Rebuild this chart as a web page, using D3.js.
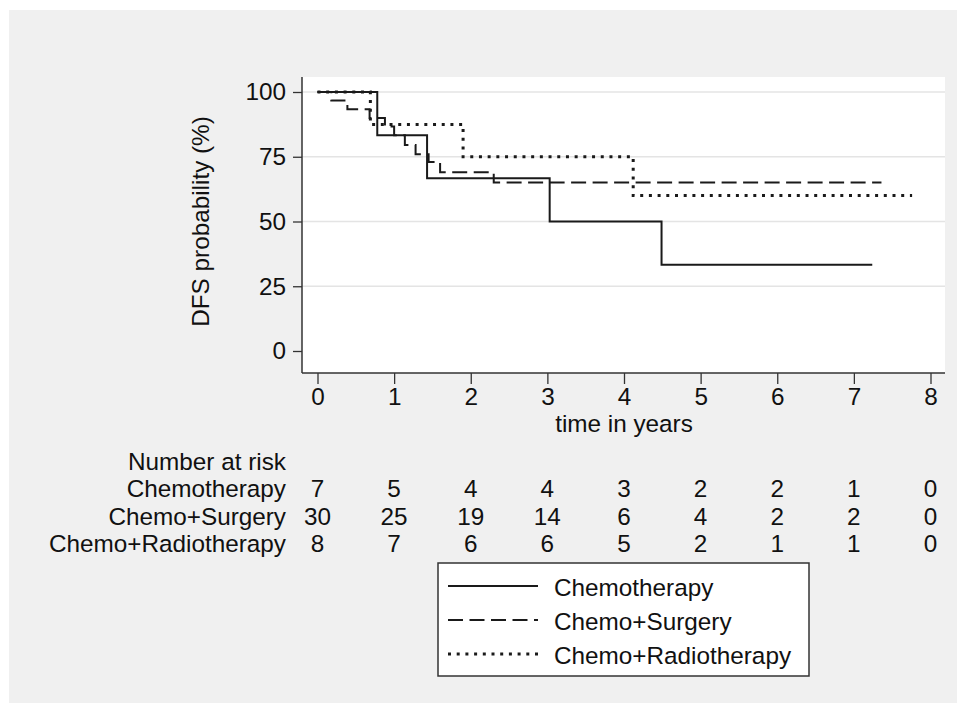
<!DOCTYPE html>
<html>
<head>
<meta charset="utf-8">
<script src="https://cdn.jsdelivr.net/npm/d3@7"></script>
<style>
  html, body { margin: 0; padding: 0; background: #ffffff; }
  svg { display: block; }
  text { font-family: "Liberation Sans", Arial, sans-serif; fill: #111; }
</style>
</head>
<body>
<svg id="chart" width="957" height="703"></svg>
<script>
// ---------- data ----------
const groups = ["Chemotherapy", "Chemo+Surgery", "Chemo+Radiotherapy"];
const xTicks = [0, 1, 2, 3, 4, 5, 6, 7, 8];
const yTicks = [0, 25, 50, 75, 100];

// Kaplan-Meier step points: survival (%) from each time onward
const chemoTimes = [0, 0.78, 1.43, 3.03, 4.49, 7.24];
const chemoSurv  = [100, 83.3, 66.7, 50, 33.3, 33.3];

const surgeryTimes = [0, 0.18, 0.39, 0.68, 0.88, 1.0, 1.14, 1.28, 1.45, 1.6, 2.30, 7.36];
const surgerySurv  = [100, 96.7, 93.3, 90.0, 86.7, 83.3, 79.5, 76.0, 73.0, 69.0, 65.1, 65.1];

const radioTimes = [0, 0.69, 1.90, 4.12, 7.76];
const radioSurv  = [100, 87.5, 75, 60, 60];

// number at risk at each x tick
const riskChemo   = [7, 5, 4, 4, 3, 2, 2, 1, 0];
const riskSurgery = [30, 25, 19, 14, 6, 4, 2, 2, 0];
const riskRadio   = [8, 7, 6, 6, 5, 2, 1, 1, 0];

// ---------- layout ----------
const svg = d3.select("#chart");
const FS = 24.3;
const plotL = 302, plotR = 945, plotT = 77, plotB = 373;

const x = d3.scaleLinear().domain([0, 8]).range([317.5, 930.5]);
const y = d3.scaleLinear().domain([0, 100]).range([351, 92]);

// outer grey background
svg.append("rect").attr("x", 9).attr("y", 10).attr("width", 957 - 9).attr("height", 703 - 10)
  .attr("fill", "#f0f0f0");

// plot region
svg.append("rect").attr("x", plotL).attr("y", plotT)
  .attr("width", plotR - plotL).attr("height", plotB - plotT).attr("fill", "#ffffff");

// gridlines
svg.append("g").selectAll("line").data(yTicks.filter(d => d > 0)).join("line")
  .attr("x1", plotL).attr("x2", plotR)
  .attr("y1", d => y(d)).attr("y2", d => y(d))
  .attr("stroke", "#e4e4e4").attr("stroke-width", 1.5);

// y axis
const yAxis = d3.axisLeft(y).tickValues(yTicks).tickSize(9).tickPadding(7);
const gy = svg.append("g").attr("transform", `translate(${plotL},0)`).call(yAxis);
gy.select(".domain").remove();
gy.selectAll(".tick line").attr("stroke", "#333").attr("stroke-width", 1.3);
gy.selectAll(".tick text").attr("font-size", FS).attr("font-family", "Liberation Sans, Arial, sans-serif").attr("fill", "#111");
svg.append("line").attr("x1", plotL).attr("x2", plotL).attr("y1", plotT).attr("y2", plotB)
  .attr("stroke", "#333").attr("stroke-width", 1.5);

// x axis
const xAxis = d3.axisBottom(x).tickValues(xTicks).tickSize(11).tickPadding(4);
const gx = svg.append("g").attr("transform", `translate(0,${plotB})`).call(xAxis);
gx.select(".domain").remove();
gx.selectAll(".tick line").attr("stroke", "#333").attr("stroke-width", 1.3);
gx.selectAll(".tick text").attr("font-size", FS).attr("font-family", "Liberation Sans, Arial, sans-serif").attr("fill", "#111");
svg.append("line").attr("x1", plotL).attr("x2", plotR).attr("y1", plotB).attr("y2", plotB)
  .attr("stroke", "#333").attr("stroke-width", 1.5);

// axis titles
svg.append("text").attr("x", 624).attr("y", 423).attr("text-anchor", "middle")
  .attr("dominant-baseline", "central").attr("font-size", FS).text("time in years");
svg.append("text").attr("transform", `translate(200,${(y(0) + y(100)) / 2}) rotate(-90)`)
  .attr("text-anchor", "middle").attr("dominant-baseline", "central")
  .attr("font-size", FS).text("DFS probability (%)");

// curves
const styles = [
  { dash: null, width: 2, cap: "butt" },
  { dash: "15,6.5", width: 2, cap: "butt" },
  { dash: "3,5.7", width: 3, cap: "butt" }
];
const seriesData = [
  chemoTimes.map((t, i) => [t, chemoSurv[i]]),
  surgeryTimes.map((t, i) => [t, surgerySurv[i]]),
  radioTimes.map((t, i) => [t, radioSurv[i]])
];
const line = d3.line().x(d => x(d[0])).y(d => y(d[1])).curve(d3.curveStepAfter);
seriesData.forEach((data, i) => {
  svg.append("path").datum(data).attr("d", line)
    .attr("fill", "none").attr("stroke", "#1a1a1a")
    .attr("stroke-width", styles[i].width)
    .attr("stroke-linecap", styles[i].cap)
    .attr("stroke-dasharray", styles[i].dash);
});

// number at risk table
const rowY = [461, 488, 516, 543];
svg.append("text").attr("x", 286).attr("y", rowY[0]).attr("text-anchor", "end")
  .attr("dominant-baseline", "central").attr("font-size", FS).text("Number at risk");
const risks = [riskChemo, riskSurgery, riskRadio];
groups.forEach((g, i) => {
  svg.append("text").attr("x", 286).attr("y", rowY[i + 1]).attr("text-anchor", "end")
    .attr("dominant-baseline", "central").attr("font-size", FS).text(g);
  svg.append("g").selectAll("text").data(risks[i]).join("text")
    .attr("x", (d, j) => x(xTicks[j])).attr("y", rowY[i + 1])
    .attr("text-anchor", "middle").attr("dominant-baseline", "central")
    .attr("font-size", FS).text(d => d);
});

// legend
const lg = svg.append("g");
lg.append("rect").attr("x", 438).attr("y", 563).attr("width", 371).attr("height", 113)
  .attr("fill", "#ffffff").attr("stroke", "#333").attr("stroke-width", 1.5);
const legY = [586, 620, 654];
groups.forEach((g, i) => {
  lg.append("line").attr("x1", 448).attr("x2", 538).attr("y1", legY[i]).attr("y2", legY[i])
    .attr("stroke", "#1a1a1a").attr("stroke-width", styles[i].width)
    .attr("stroke-dasharray", styles[i].dash);
  lg.append("text").attr("x", 554).attr("y", legY[i] + 1).attr("dominant-baseline", "central")
    .attr("font-size", FS).text(g);
});
</script>
</body>
</html>
